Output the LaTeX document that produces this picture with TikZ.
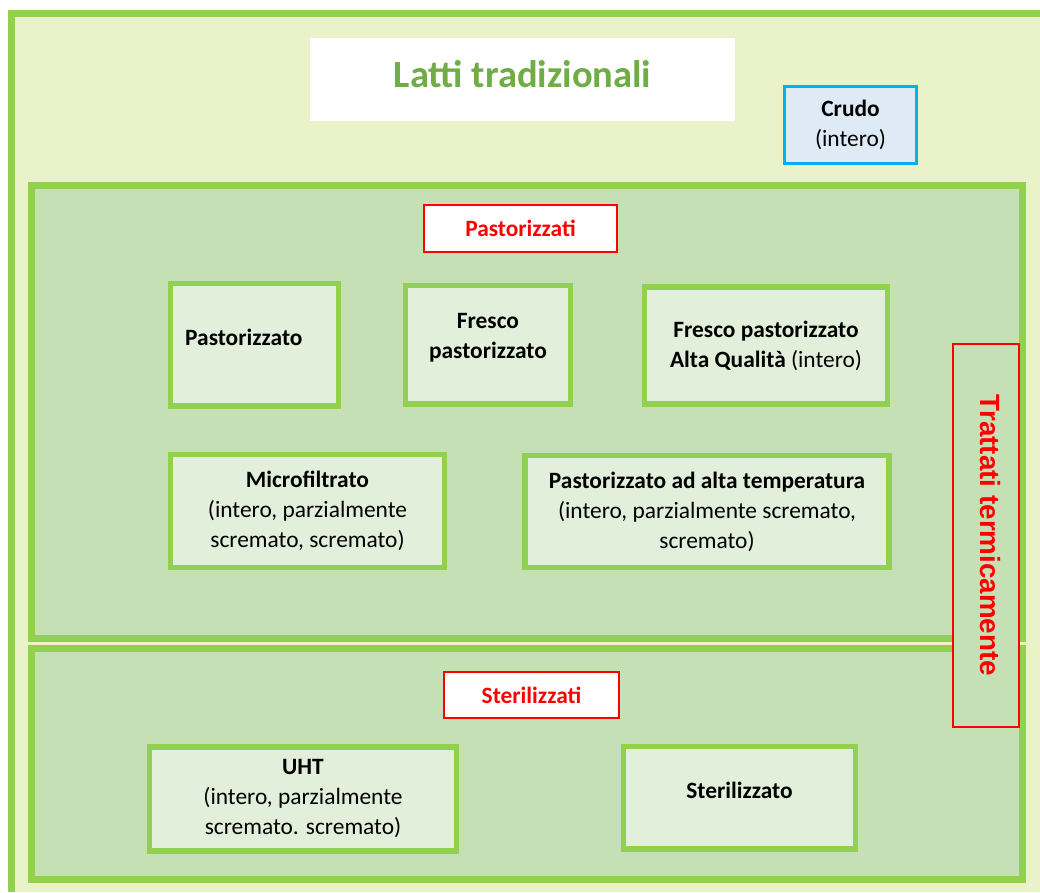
\documentclass[tikz,border=0pt]{standalone}
\usepackage{fontspec}
\setmainfont{Carlito}
\newfontfamily\arialfont{Liberation Sans}
\usetikzlibrary{positioning}

\definecolor{limebg}{RGB}{233,242,200}
\definecolor{limeline}{RGB}{146,208,80}
\definecolor{panelgreen}{RGB}{197,224,180}
\definecolor{boxgreen}{RGB}{226,239,218}
\definecolor{titlegreen}{RGB}{112,173,71}
\definecolor{crudofill}{RGB}{222,235,247}
\definecolor{crudoline}{RGB}{0,176,240}

\begin{document}
\begin{tikzpicture}[x=1pt,y=-1pt,
  txt/.style={font=\fontsize{23.4}{30}\selectfont,align=center,inner sep=0pt},
  panel/.style={draw=limeline,line width=7pt,fill=panelgreen,inner sep=0pt},
  milkbox/.style={txt,draw=limeline,line width=5.5pt,fill=boxgreen},
  redtag/.style={txt,draw=red,line width=1.5pt,fill=white,text=red,
    font=\fontsize{23.4}{30}\selectfont\bfseries}]

\useasboundingbox (0,0) rectangle (1040,892);
\fill[white] (0,0) rectangle (1040,892);

% Outer frame: only its top and left sides fall inside the picture.
\fill[limebg] (11.5,13.5) rectangle (1040,892);
\draw[draw=limeline,line width=7pt] (11.5,892) -- (11.5,13.5) -- (1040,13.5);

% Title and the raw milk box.
\node[txt,fill=white,minimum width=425,minimum height=83,text=titlegreen,
  font=\fontsize{38.5}{44}\selectfont\bfseries,text depth=11pt]
  (title) at (522.5,79.5) {Latti tradizionali};
\node[txt,draw=crudoline,line width=3pt,fill=crudofill,minimum width=132,
  minimum height=77] (crudo) at (850.5,125)
  {\textbf{Crudo}\\(intero)};

% The two panels.
\node[panel,minimum width=991,minimum height=453] (pastpanel) at (527,412) {};
\node[panel,minimum width=991,minimum height=231.5] (sterpanel) at (527,763.75) {};

\node[redtag,minimum width=193,minimum height=47] (pasttag) at (520.5,228.5) {Pastorizzati};
\node[redtag,minimum width=175,minimum height=46] (stertag) at (531.5,695) {Sterilizzati};

% Pasteurised milks, first row.
\node[milkbox,minimum width=168,minimum height=122.5] (past) at (254.5,344.75) {};
\node[txt,anchor=west] (pasttxt) at (185,337) {\textbf{Pastorizzato}};

\node[milkbox,minimum width=165,minimum height=118.5] (fresco) at (488,344.75) {};
\node[txt] (frescotxt) at (488,338) {\textbf{Fresco}\\\textbf{pastorizzato}};

\node[milkbox,minimum width=243,minimum height=117] (altaq) at (766,345.5)
  {\textbf{Fresco pastorizzato}\\\textbf{Alta Qualità} (intero)};

% Pasteurised milks, second row.
\node[milkbox,minimum width=274,minimum height=113] (micro) at (307.5,511)
  {\textbf{Microfiltrato}\\(intero, parzialmente\\scremato, scremato)};
\node[milkbox,minimum width=364,minimum height=112] (altatemp) at (707,511.5)
  {\textbf{Pastorizzato ad alta temperatura}\\(intero, parzialmente scremato,\\scremato)};

% Sterilised milks.
\node[milkbox,minimum width=307,minimum height=104] (uht) at (303,799)
  {\textbf{UHT}\\(intero, parzialmente\\scremato. scremato)};
\node[milkbox,minimum width=232,minimum height=102.5] (steril) at (739.5,797.75) {};
\node[txt] (steriltxt) at (739.5,790) {\textbf{Sterilizzato}};

% Side label over both panels.
\node[draw=red,line width=1.5pt,fill=panelgreen,rotate=-90,minimum width=383,
  minimum height=66,inner sep=0pt,text=red,text depth=9pt,
  font=\arialfont\bfseries\fontsize{27.8}{30}\selectfont]
  (trattati) at (986,535.5) {Trattati termicamente};

\end{tikzpicture}
\end{document}
